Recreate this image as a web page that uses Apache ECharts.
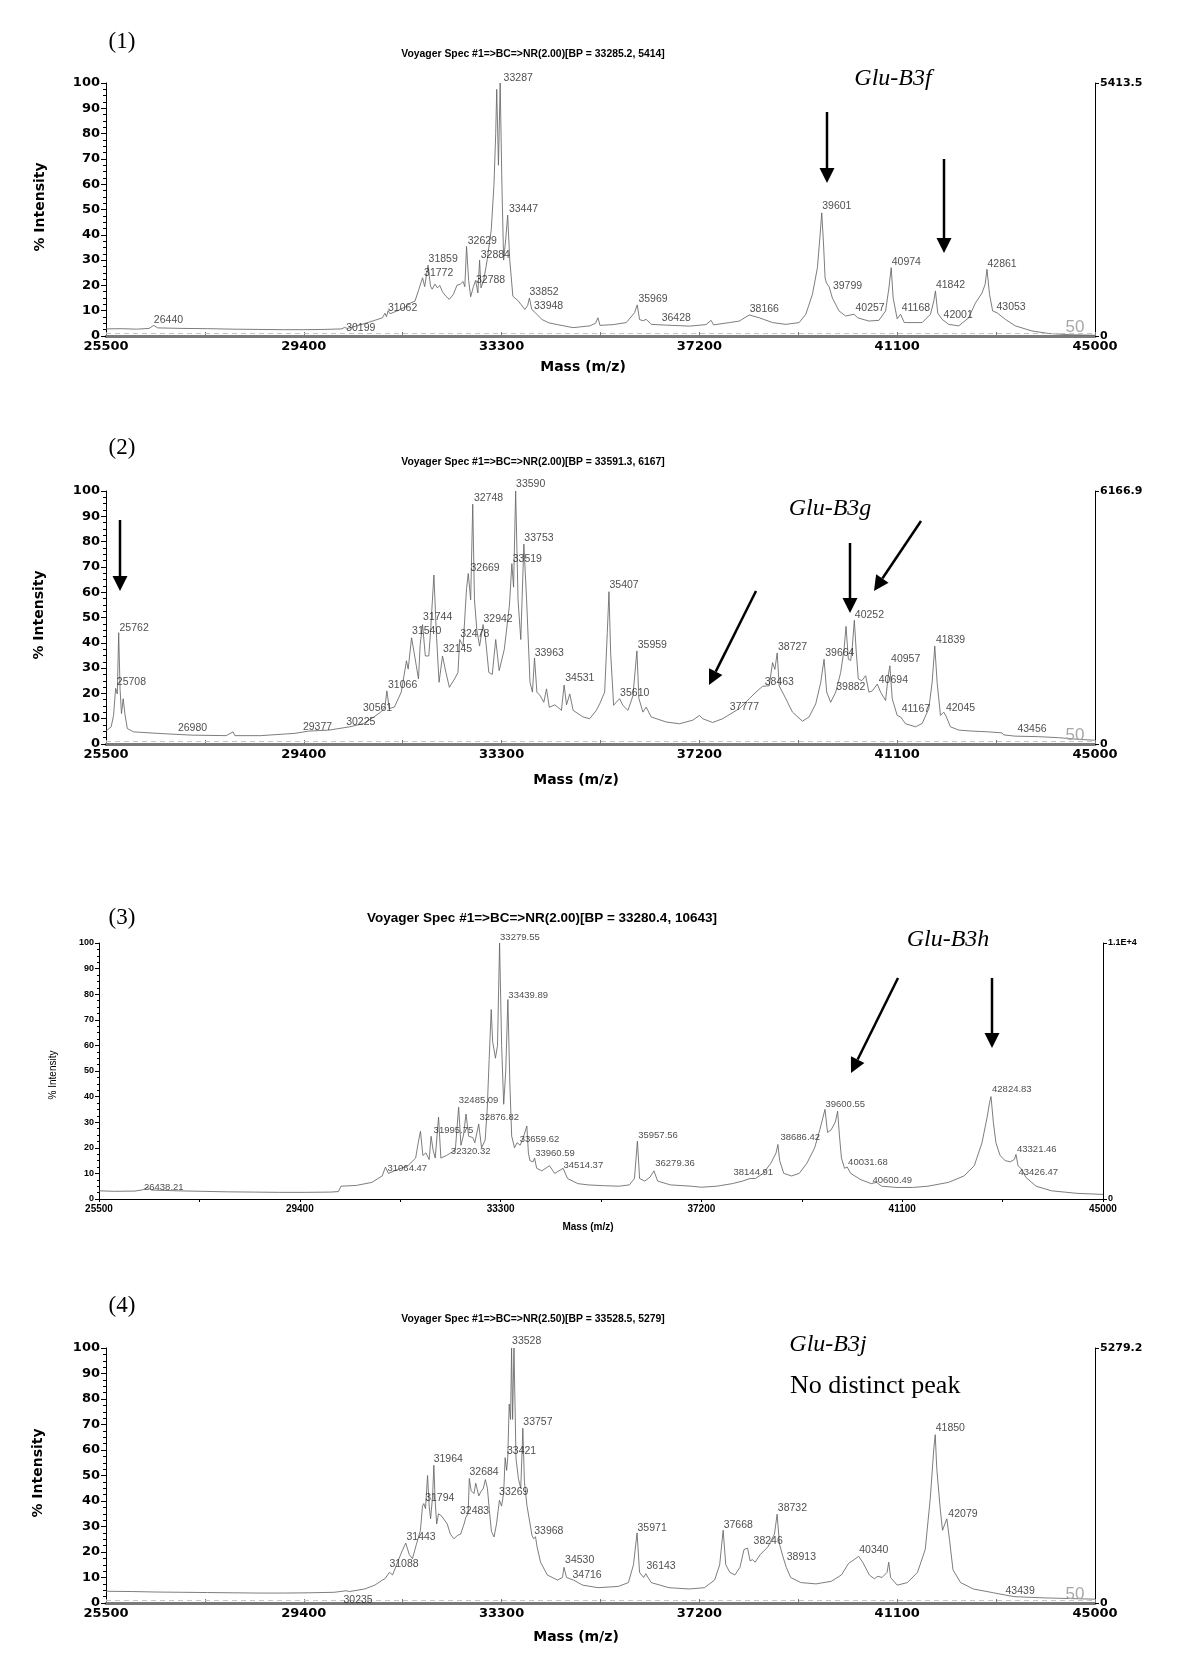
<!DOCTYPE html>
<html><head><meta charset="utf-8">
<script src="https://cdn.jsdelivr.net/npm/echarts@6.0.0/dist/echarts.min.js"></script>
<style>html,body{margin:0;padding:0;background:#fff}#c{width:1200px;height:1669px}</style>
</head><body><div id="c"></div>
<script>
// ---------- DATA ----------
const xTicks = [25500, 29400, 33300, 37200, 41100, 45000];
const panelNames = ['(1)', '(2)', '(3)', '(4)'];
const panelTitles = [
  'Voyager Spec #1=>BC=>NR(2.00)[BP = 33285.2, 5414]',
  'Voyager Spec #1=>BC=>NR(2.00)[BP = 33591.3, 6167]',
  'Voyager Spec #1=>BC=>NR(2.00)[BP = 33280.4, 10643]',
  'Voyager Spec #1=>BC=>NR(2.50)[BP = 33528.5, 5279]'
];
const rightMax = [5413.5, 6166.9, 10643, 5279.2];
const rightMaxLabel = ['5413.5', '6166.9', '1.1E+4', '5279.2'];
const alleles = ['Glu-B3f', 'Glu-B3g', 'Glu-B3h', 'Glu-B3j'];

const spec1 = [[25500,2.8],[25800,2.9],[26100,2.7],[26350,3.0],[26440,4.2],[26520,3.2],[27000,3.0],[27500,2.9],[28000,2.7],[28500,2.6],[29000,2.5],[29400,2.5],[29800,2.6],[30150,2.8],[30199,3.4],[30260,3.0],[30500,4.3],[30800,6.2],[30950,7.2],[31000,9.0],[31030,7.6],[31062,10],[31100,8.8],[31250,10],[31400,11.5],[31500,13],[31593,13.8],[31661,18],[31742,23],[31783,19.5],[31850,28],[31898,19.7],[31932,18.5],[31986,20.5],[32033,19],[32080,20],[32135,17.5],[32202,15.7],[32270,14.5],[32351,16.5],[32419,20],[32487,20.5],[32541,21.5],[32575,19.5],[32609,35.4],[32650,22],[32690,15.5],[32744,19.5],[32788,22],[32832,17],[32866,30],[32893,19],[32947,22],[33015,30],[33096,42],[33150,60],[33184,80],[33204,97.5],[33238,67.5],[33272,100],[33306,60],[33340,30],[33380,38],[33420,47.8],[33461,30],[33522,15.7],[33623,14],[33759,10.5],[33813,12],[33848,15],[33895,10.5],[33963,9.2],[34098,6.5],[34233,5.2],[34400,4.5],[34709,3.3],[35037,4.0],[35150,5.0],[35200,7.2],[35240,4.2],[35500,4.5],[35758,5.3],[35922,9.2],[35974,12.3],[36020,6.5],[36090,6.0],[36151,6.6],[36250,4.6],[36545,4.3],[37003,3.9],[37331,4.5],[37430,6.2],[37480,4.4],[37790,5.3],[37987,5.9],[38183,8.3],[38380,7.2],[38642,5.3],[38904,4.6],[39166,5.3],[39298,8.6],[39429,16.5],[39527,27],[39580,40],[39612,48.7],[39645,37.5],[39678,23],[39704,21],[39757,19.5],[39822,15],[39953,9.9],[40084,7.9],[40248,8.6],[40320,7.2],[40543,5.9],[40740,6.2],[40871,9.9],[40937,19],[40982,27],[41020,15],[41100,6.8],[41166,8.6],[41240,5.3],[41592,5.3],[41756,8.6],[41821,13.8],[41854,17.8],[41900,9],[41985,6.6],[42116,4.6],[42313,4.0],[42510,7.2],[42641,13],[42772,17],[42835,20.5],[42870,26.4],[42920,16.5],[42982,9.9],[43067,9.2],[43231,6.6],[43428,4.0],[43756,2.0],[44083,1.0],[44500,0.5],[45000,0.3]];

const spec2 = [[25500,5.1],[25602,6.8],[25649,11.3],[25690,22],[25723,19.8],[25750,44],[25777,21.8],[25805,12],[25839,17.9],[25872,12],[25920,6.1],[26042,4.8],[26515,4.2],[27193,3.5],[27870,3.3],[28005,4.8],[28040,3.3],[28547,3.3],[29224,4.2],[29494,5.1],[29900,5.5],[30307,6.8],[30578,8.1],[30781,10.7],[30916,12.6],[31000,14.5],[31038,21],[31085,14],[31187,14.6],[31322,20.5],[31424,32.9],[31458,29.6],[31525,42],[31593,34],[31661,25.7],[31695,39.4],[31742,47.2],[31796,34.8],[31864,34.8],[31898,44],[31965,66.8],[32013,44],[32067,24.4],[32135,34.8],[32202,28.3],[32270,22.4],[32372,25.7],[32440,28.3],[32474,41.3],[32541,38.7],[32609,61.5],[32643,67.4],[32690,57],[32731,94.8],[32765,57],[32812,45],[32866,38.7],[32934,47.2],[32981,42],[33048,28.3],[33116,27.5],[33184,41.3],[33252,29],[33353,37.4],[33455,55],[33502,71.3],[33536,62],[33577,100],[33624,57],[33678,41.3],[33739,79],[33793,57],[33860,24.4],[33908,20.5],[33949,34],[33996,20.5],[34064,19],[34132,16.5],[34186,21.8],[34240,14.5],[34350,15.5],[34480,13.3],[34532,23.3],[34580,15.5],[34644,19.8],[34710,13.3],[34906,10.7],[35037,10],[35168,13.3],[35234,15.9],[35332,20.5],[35384,44],[35417,60.2],[35450,36],[35509,15.3],[35560,16.5],[35627,17.9],[35690,15.3],[35791,13.3],[35889,19],[35968,36.8],[36007,18],[36086,12.6],[36151,14.6],[36249,10.7],[36545,8.7],[36807,8],[37069,9.4],[37200,11.3],[37265,10],[37462,8.5],[37659,10],[37823,12],[37987,14],[38183,17.9],[38314,20.5],[38445,22.8],[38577,23],[38642,32.2],[38688,29.5],[38734,36],[38773,23],[38904,17.9],[39035,12.6],[39232,9],[39363,10.7],[39494,15.9],[39593,24.4],[39658,33.5],[39710,20.5],[39789,16.5],[39888,20.5],[39986,28.3],[40052,37.4],[40091,46.5],[40137,33.5],[40183,33],[40216,38.7],[40255,48.9],[40294,36],[40333,25.7],[40400,25],[40478,27],[40543,20.5],[40610,21],[40707,23.7],[40773,20.5],[40871,17.2],[40923,27],[40956,30.9],[41002,17.9],[41100,11.3],[41166,10.7],[41264,8],[41461,6.8],[41592,8.1],[41723,14],[41789,24.4],[41841,38.7],[41887,24.4],[41953,11.3],[42018,12.6],[42064,11],[42149,6.8],[42313,5.5],[42575,5.1],[42903,4.8],[43165,4.4],[43200,3.6],[43428,3.1],[43887,2.9],[44280,2.5],[44700,1.8],[45000,1.5]];

const spec3 = [[25500,3.2],[25800,3.0],[26200,3.1],[26350,3.6],[26438,4.5],[26520,3.5],[27000,3.2],[27500,3.0],[28000,2.8],[28500,2.7],[29000,2.6],[29500,2.6],[30000,2.7],[30150,2.9],[30200,5.0],[30500,5.3],[30800,6.5],[31000,9],[31064,12.5],[31120,10],[31300,11.5],[31500,13],[31650,16],[31700,22],[31744,26.5],[31790,17],[31850,18],[31913,15.4],[31950,24.5],[31990,19],[32030,16],[32095,32],[32140,16],[32250,17],[32329,18],[32420,19],[32485,35.9],[32530,21],[32580,25],[32628,33.2],[32680,24.5],[32760,24],[32800,22],[32875,29.3],[32930,20],[33000,23],[33040,35],[33078,54.5],[33118,74],[33145,61.6],[33180,62],[33200,55],[33240,60],[33280,100],[33320,60],[33360,37],[33400,50],[33441,77.9],[33480,45],[33515,24.6],[33570,20],[33620,22],[33680,21],[33740,24],[33810,28.5],[33840,18],[33870,15],[33930,14.5],[33960,16],[34000,12],[34100,11],[34250,13],[34350,10],[34514,12],[34600,8],[34800,6],[35000,5.5],[35300,5.2],[35600,5],[35800,5.5],[35900,8],[35957,22.6],[36000,8],[36100,7],[36200,8.5],[36279,11],[36350,7],[36600,5.5],[37000,5],[37200,4.6],[37500,5],[37800,6],[38000,7],[38144,8],[38250,8],[38400,10],[38550,14],[38650,18],[38686,21.3],[38720,15],[38800,10],[38950,9],[39100,10],[39250,14],[39400,20],[39500,27],[39600,35],[39650,26],[39720,27],[39800,30],[39846,34.3],[39880,25],[39920,16],[39980,12],[40031,12.5],[40100,10],[40300,7.5],[40500,6],[40600,6.5],[40700,5],[41000,4.5],[41300,4.5],[41600,5],[42000,6.5],[42300,9],[42500,13],[42650,22],[42750,32],[42800,38],[42825,40],[42870,30],[42920,22],[43000,17],[43100,15],[43200,14.5],[43280,15.5],[43310,17.4],[43350,13],[43426,11.5],[43500,8.5],[43700,5],[44000,3.2],[44500,2.2],[45000,1.8]];

const spec4 = [[25500,4.6],[26000,4.5],[26500,4.3],[27000,4.2],[27500,4.1],[28000,4.0],[28500,3.9],[29000,3.9],[29500,4.0],[30000,4.2],[30235,4.8],[30300,4.5],[30600,5.5],[30800,7],[30950,9],[31000,9.5],[31088,12],[31150,11],[31250,16],[31330,20],[31410,23.5],[31480,19],[31542,17.4],[31620,23],[31700,28.5],[31740,38],[31766,39],[31800,37],[31840,50],[31872,38],[31900,33],[31940,42],[31964,54],[31990,40],[32020,31],[32056,35],[32122,34],[32228,31],[32290,27],[32360,25.2],[32430,26.5],[32492,27],[32560,31],[32597,33.7],[32640,35],[32663,48.8],[32700,44],[32755,42.9],[32790,47],[32821,46.8],[32850,42],[32887,43.5],[32940,45],[32980,48.4],[33020,45],[33059,36.3],[33100,28],[33151,25.9],[33200,31],[33257,40.3],[33300,38],[33340,43],[33370,57],[33400,52],[33421,57],[33450,78],[33477,72],[33497,100],[33517,72],[33544,100],[33584,56.7],[33631,48.8],[33678,45],[33719,68.5],[33750,47.5],[33799,38.3],[33900,26.5],[33933,25.2],[33968,26],[34000,22],[34068,16],[34200,11],[34400,9],[34500,10],[34530,14],[34580,10],[34716,9],[34900,7],[35200,6],[35600,6.5],[35800,8],[35900,15],[35971,27.5],[36020,12],[36100,10],[36143,11.5],[36250,8],[36600,6],[37000,5.5],[37300,6],[37500,9],[37600,15],[37668,28.5],[37720,15],[37800,12],[37900,11],[38000,14],[38080,21],[38150,21.5],[38200,16.5],[38246,17],[38300,16],[38400,19],[38550,22],[38680,27],[38732,34.8],[38780,23],[38850,18],[38913,14],[39000,10],[39200,8],[39500,7.5],[39800,8.5],[40000,11],[40140,15.5],[40250,17],[40340,18.3],[40420,16],[40550,11],[40650,9.5],[40720,10.5],[40800,10],[40900,12],[40933,16],[40970,10],[41100,7],[41300,8],[41500,12],[41653,21],[41752,41],[41820,60],[41850,66],[41880,52.8],[41948,37],[41994,28.5],[42040,31],[42079,33],[42130,25],[42200,13],[42350,8],[42600,5.5],[43000,4],[43400,2.5],[43439,2.8],[44000,2],[45000,1.5]];

// peak labels: [mass at label left edge, % at label middle, text]
const peaks1 = [[26434,6.3,'26440'],[30225,3.3,'30199'],[31051,11,'31062'],[31762,24.9,'31772'],[31850,30.5,'31859'],[32622,37.7,'32629'],[32879,32,'32884'],[32785,21.9,'32788'],[33330,102,'33287'],[33434,50.2,'33447'],[33840,17.4,'33852'],[33929,12,'33948'],[35987,14.5,'35969'],[36446,7.2,'36428'],[38183,10.5,'38166'],[39612,51.4,'39601'],[39822,19.8,'39799'],[40268,11.2,'40257'],[40982,29.4,'40974'],[41179,11.2,'41168'],[41854,20.2,'41842'],[42005,8.3,'42001'],[42870,28.6,'42861'],[43047,11.6,'43053']];
const peaks2 = [[25757,45.9,'25762'],[25703,24.4,'25708'],[26908,6.4,'26980'],[29372,6.8,'29377'],[30225,8.7,'30225'],[30557,14,'30561'],[31051,23.3,'31066'],[31525,44.6,'31540'],[31742,50,'31744'],[32135,37.4,'32145'],[32473,43.5,'32478'],[32676,69.6,'32669'],[32744,97,'32748'],[32933,49.4,'32942'],[33509,73.1,'33519'],[33576,102.6,'33590'],[33739,81.4,'33753'],[33942,36.1,'33963'],[34545,25.9,'34531'],[35417,62.8,'35407'],[35627,20.2,'35610'],[35974,39,'35959'],[37790,14.6,'37777'],[38478,24.4,'38463'],[38740,38.3,'38727'],[39671,35.9,'39664'],[39888,22.4,'39882'],[40255,51.1,'40252'],[40727,25.3,'40694'],[40969,33.5,'40957'],[41179,13.6,'41167'],[41854,41.1,'41839'],[42051,14.2,'42045'],[43460,5.7,'43456']];
const peaks3 = [[26364,4.6,'26438.21'],[31094,12.1,'31064.47'],[31989,26.8,'31995.75'],[32324,18.6,'32320.32'],[32478,38.5,'32485.09'],[32879,31.7,'32876.82'],[33280,102.3,'33279.55'],[33441,79.7,'33439.89'],[33662,23.3,'33659.62'],[33963,17.8,'33960.59'],[34513,13.2,'34514.37'],[35963,24.8,'35957.56'],[36294,14.1,'36279.36'],[37814,10.5,'38144.91'],[38726,23.9,'38686.42'],[39600,36.9,'39600.55'],[40040,14.2,'40031.68'],[40513,7.4,'40600.49'],[42835,42.8,'42824.83'],[43320,19.4,'43321.46'],[43349,10.5,'43426.47']];
const peaks4 = [[30173,1.2,'30235'],[31078,15.4,'31088'],[31414,25.9,'31443'],[31783,41.3,'31794'],[31951,56.3,'31964'],[32469,36.1,'32483'],[32657,51.2,'32684'],[33241,43.3,'33269'],[33396,59.6,'33421'],[33497,102.6,'33528'],[33719,71,'33757'],[33933,28.1,'33968'],[34541,16.7,'34530'],[34688,11,'34716'],[35970,29.5,'35971'],[36147,14.5,'36143'],[37668,30.4,'37668'],[38258,24.1,'38246'],[38736,37.4,'38732'],[38913,18,'38913'],[40342,20.6,'40340'],[41850,68.5,'41850'],[42099,35,'42079'],[43226,4.7,'43439']];

const spectra = [spec1, spec2, spec3, spec4];
const peakSets = [peaks1, peaks2, peaks3, peaks4];

// ---------- LAYOUT ----------
const grids = [
  {left:106, top:83, width:989, height:253},
  {left:106, top:491, width:989, height:253},
  {left:99, top:943, width:1004, height:256},
  {left:106, top:1348, width:989, height:255}
];
const BIG = '"DejaVu Sans"';
const ARIAL = '"Liberation Sans", Arial';
const SERIF = '"Liberation Serif", "Times New Roman", serif';

const chart = echarts.init(document.getElementById('c'), null, {renderer:'canvas'});

const xAxes = [], yAxes = [], series = [];
grids.forEach((g, i) => {
  const small = (i === 2);
  xAxes.push({
    type:'value', gridIndex:i, min:xTicks[0], max:xTicks[xTicks.length-1], interval:xTicks[1]-xTicks[0],
    axisLine:{show:true, onZero:false, lineStyle:{color: small ? '#000' : '#7a7a7a', width: small ? 1 : 3}},
    axisTick:{show:true, inside:!small, length: small ? 3 : 4, lineStyle:{color: small ? '#000' : '#7a7a7a'}},
    minorTick:{show:true, splitNumber:2, length: small ? 3 : 4, lineStyle:{color: small ? '#000' : '#7a7a7a'}},
    axisLabel:{fontFamily: small ? ARIAL : BIG, fontWeight:'bold', fontSize: small ? 10 : 13, color:'#000', margin: small ? 5 : 4,
               showMinLabel:true, showMaxLabel:true, formatter: v => String(Math.round(v))},
    splitLine:{show:false}
  });
  yAxes.push({
    type:'value', gridIndex:i, min:0, max:100, interval:10, position:'left',
    axisLine:{show:true, lineStyle:{color:'#000', width:1}},
    axisTick:{show:true, length: small ? 4 : 5, lineStyle:{color:'#000'}},
    minorTick:{show:true, splitNumber:4, length: small ? 2 : 3, lineStyle:{color:'#000'}},
    axisLabel:{fontFamily: small ? ARIAL : BIG, fontWeight:'bold', fontSize: small ? 9 : 13, color:'#000', margin: small ? 5 : 6},
    splitLine:{show:false}
  });
  yAxes.push({
    type:'value', gridIndex:i, min:0, max:rightMax[i], interval:rightMax[i], position:'right',
    axisLine:{show:true, lineStyle:{color:'#000', width:1}},
    axisTick:{show:true, length:4, lineStyle:{color:'#000'}},
    axisLabel:{fontFamily: small ? ARIAL : BIG, fontWeight:'bold', fontSize: small ? 9 : 11, color:'#000', margin:5,
               formatter: v => (v === 0 ? '0' : rightMaxLabel[i])},
    splitLine:{show:false}
  });
  const line = {
    type:'line', xAxisIndex:i, yAxisIndex:2*i, data:spectra[i], showSymbol:false, symbol:'none',
    lineStyle:{color:'#666', width:0.85}, animation:false, silent:true, z:3
  };
  if (!small) {
    line.markLine = {silent:true, symbol:'none', animation:false, label:{show:false},
      lineStyle:{color:'#c4c4c4', type:[5,4], width:1}, data:[{yAxis:1}]};
  }
  series.push(line);
  const pk = peakSets[i];
  series.push({
    type:'scatter', xAxisIndex:i, yAxisIndex:2*i, data:pk.map(p => [p[0], p[1]]),
    symbolSize:1, itemStyle:{color:'rgba(0,0,0,0)'}, clip:false, silent:true, animation:false, z:5,
    label:{show:true, position:'right', distance:0, color:'#222',
           fontFamily:ARIAL, fontSize: small ? 9.5 : 10.5,
           formatter: p => pk[p.dataIndex][2]}
  });
});

// ---------- ANNOTATIONS ----------
const graphics = [];
function txt(text, x, y, font, opt) {
  opt = opt || {};
  graphics.push({type:'text', x:x, y:y, rotation: opt.rot || 0, silent:true, z:10,
    style:{text:text, x:0, y:0, font:font, fill: opt.fill || '#000', align: opt.align || 'center', verticalAlign:'middle'}});
}
function arrow(x1, y1, x2, y2) {
  const dx = x2 - x1, dy = y2 - y1, len = Math.hypot(dx, dy);
  const ux = dx/len, uy = dy/len, L = 15, Wd = 7.5;
  const bx = x2 - ux*L, by = y2 - uy*L;
  graphics.push({type:'line', silent:true, z:10, shape:{x1:x1, y1:y1, x2:bx, y2:by}, style:{stroke:'#000', lineWidth:2.5}});
  graphics.push({type:'polygon', silent:true, z:10,
    shape:{points:[[x2, y2], [bx - uy*Wd, by + ux*Wd], [bx + uy*Wd, by - ux*Wd]]}, style:{fill:'#000'}});
}

const nameY = [42, 448, 918, 1306];
const titleY = [54, 462, 918, 1319];
const titleX = [533, 533, 542, 533];
const intensityPos = [[40,207],[39,615],[53,1075],[38,1473]];
const massPos = [[583,367],[576,780],[588,1227],[576,1637]];
grids.forEach((g, i) => {
  const small = (i === 2);
  txt(panelNames[i], 122, nameY[i], '23px ' + SERIF);
  txt(panelTitles[i], titleX[i], titleY[i], 'bold ' + (small ? 13.5 : 10.4) + 'px ' + ARIAL);
  txt('% Intensity', intensityPos[i][0], intensityPos[i][1], small ? ('10px ' + ARIAL) : ('bold 14px ' + BIG), {rot: Math.PI/2});
  txt('Mass (m/z)', massPos[i][0], massPos[i][1], small ? ('bold 10px ' + ARIAL) : ('bold 14px ' + BIG));
  if (!small) txt('50', g.left + g.width - 20, g.top + g.height - 9, '17px ' + ARIAL, {fill:'#a8a8a8'});
});

txt(alleles[0], 893, 79, 'italic 24px ' + SERIF);
txt(alleles[1], 830, 509, 'italic 24px ' + SERIF);
txt(alleles[2], 948, 940, 'italic 24px ' + SERIF);
txt(alleles[3], 828, 1345, 'italic 24px ' + SERIF);
txt('No distinct peak', 790, 1386, '26px ' + SERIF, {align:'left'});

arrow(827,112,827,183); arrow(944,159,944,253);
arrow(120,520,120,591); arrow(756,591,709,685); arrow(850,543,850,613); arrow(921,521,874,591);
arrow(898,978,851,1073); arrow(992,978,992,1048);

chart.setOption({
  animation:false,
  backgroundColor:'#fff',
  grid:grids.map(g => Object.assign({containLabel:false}, g)),
  xAxis:xAxes, yAxis:yAxes, series:series, graphic:graphics
});
</script>
</body></html>
